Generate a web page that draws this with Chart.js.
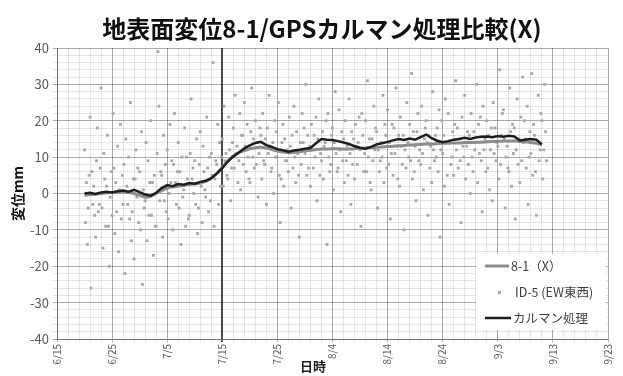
<!DOCTYPE html>
<html>
<head>
<meta charset="utf-8">
<script src="https://cdn.jsdelivr.net/npm/chart.js@4.4.1/dist/chart.umd.min.js"></script>
<style>
  html, body { margin: 0; padding: 0; background: #fff; }
  #wrap { width: 623px; height: 376px; }
</style>
</head>
<body>
<div id="wrap"><canvas id="c" width="623" height="376"></canvas></div>
<script>
// ---- data ----
const chartTitle = '地表面変位8-1/GPSカルマン処理比較(X)';
const xAxisTitle = '日時';
const yAxisTitle = '変位mm';
const axisOrigin = '6/15';
const xTickLabels = ['6/15', '6/25', '7/5', '7/15', '7/25', '8/4', '8/14', '8/24', '9/3', '9/13', '9/23'];

const seriesNames = ['8-1（X）', 'ID-5 (EW東西)', 'カルマン処理'];

// 8-1 (X): daily values starting 6/20
const gaugeStart = '6/20';
const gaugeVals = [
  -0.5, -0.3, -0.2, 0.0, 0.2, 0.3, 0.4, 0.5, 0.3, 0.0,
  -0.5, -1.0, -0.8, 0.0, 0.8, 1.5, 1.8, 2.0, 2.2, 2.5,
  2.6, 2.9, 3.3, 4.2, 5.5, 7.2, 9.0, 10.3, 11.2, 11.8,
  12.3, 12.6, 12.7, 12.5, 12.1, 11.7, 11.4, 11.2, 11.3, 11.5,
  11.7, 11.9, 12.1, 12.2, 12.2, 12.3, 12.3, 12.2, 12.2, 12.3,
  12.4, 12.5, 12.6, 12.7, 12.8, 12.9, 13.0, 13.1, 13.2, 13.3,
  13.4, 13.5, 13.6, 13.6, 13.7, 13.8, 13.8, 13.9, 13.9, 14.0,
  14.0, 14.1, 14.1, 14.2, 14.3, 14.3, 14.4, 14.4, 14.5, 14.3,
  14.2, 14.0, 13.8, 13.4
];

// Kalman filtered: daily values starting 6/20
const kalmanStart = '6/20';
const kalmanVals = [
  0.0, 0.2, -0.1, 0.3, 0.5, 0.3, 0.6, 0.8, 0.5, 1.0,
  0.4, -0.3, -0.6, 0.2, 1.5, 2.3, 2.0, 2.6, 2.4, 2.9,
  2.7, 3.2, 3.5, 4.2, 5.5, 7.0, 8.8, 10.2, 11.3, 12.4,
  13.2, 13.9, 14.2, 13.3, 12.8, 12.2, 11.9, 11.5, 11.8, 12.0,
  12.3, 12.5, 13.8, 15.0, 14.8, 14.7, 14.4, 14.0, 13.6, 13.0,
  12.6, 12.3, 12.8, 13.5, 13.8, 14.2, 14.6, 15.0, 14.7, 15.1,
  14.8, 15.5, 16.2, 15.2, 14.5, 14.1, 14.4, 14.8, 15.0, 15.3,
  15.0, 15.4, 15.6, 15.7, 15.5, 15.8, 15.6, 15.9, 15.7, 14.6,
  14.8, 15.0, 14.8, 13.5
];

// ID-5 (EW): six readings per day (every 4 hours), starting 6/20
const id5Start = '6/20';
const id5ReadingsPerDay = 6;
const id5Vals = [
  [12, -8, 3, -14, -4, 5], [21, -26, 6, -3, 2, -6], [-12, 9, 18, -5, -3, 7], [29, -4, -15, 11, 4, -9],
  [2, 16, -9, -20, -1, 6], [-6, 22, 7, -11, 3, -5], [13, -16, 1, 19, -7, 5], [-3, 8, -22, 15, 2, -3],
  [10, -7, 25, -13, -5, 4], [-18, 4, 12, -1, 7, -8], [6, -10, 17, -25, 1, -4], [-2, 14, -13, 9, -6, 3],
  [20, -6, 3, -17, 5, -9], [-9, 11, 39, 24, -2, 6], [5, -12, 16, -2, 8, -5], [12, -7, 0, 19, 3, 9],
  [-10, 8, 22, 3, -3, 6], [14, -4, 6, -14, 10, -1], [1, 18, -9, 10, 4, -7], [-6, 11, 26, 4, 7, 0],
  [9, -3, 15, -11, -4, 8], [17, 2, -8, 13, 6, 1], [-1, 21, 7, -5, 10, -2], [11, 5, 36, -9, 4, 9],
  [8, 19, -3, 14, 2, 10], [15, 2, 24, 9, 11, 5], [4, 21, 12, -2, 7, 14], [18, 7, 27, 11, 13, 3],
  [9, 22, 1, 16, 16, 8], [25, 13, 6, 19, 10, 4], [3, 17, 29, 10, 15, 7], [20, 8, 14, -1, 11, 18],
  [16, 4, 22, 9, 8, 15], [-3, 18, 11, 27, 13, 6], [7, 14, 0, 20, 10, 17], [12, 25, 5, -8, 4, 14],
  [19, 2, 15, 9, 9, 12], [6, 21, 13, -4, 16, 7], [24, 10, 3, 17, 11, 5], [-12, 14, 8, 22, 14, 18],
  [11, 30, 5, 16, 7, 13], [2, 19, 12, 7, 16, 10], [21, -2, 15, 26, 5, 11], [9, 17, 4, 13, 14, 20],
  [-14, 22, 10, 6, 8, 16], [18, 1, 14, 28, 11, 6], [7, 23, 12, -5, 17, 9], [15, 3, 20, 9, 13, 5],
  [26, 11, -3, 17, 8, 15], [4, 19, 13, 8, 14, 21], [12, -9, 22, 16, 6, 11], [20, 6, 31, 10, 15, 3],
  [1, 15, 9, 24, 12, 18], [17, -4, 12, 6, 9, 14], [10, 27, 3, 19, 16, 7], [23, 8, 14, -7, 11, 19],
  [5, 18, 11, 29, 13, 4], [16, 2, 21, 13, 8, 16], [-10, 12, 7, 25, 14, 10], [19, 9, 33, 4, 17, 6],
  [13, -2, 17, 22, 9, 12], [8, 24, 11, 1, 15, 18], [20, 14, -6, 16, 7, 13], [3, 28, 12, 9, 16, 10],
  [18, 6, 23, -12, 12, 20], [11, 16, 2, 26, 14, 5], [22, -3, 14, 8, 10, 17], [5, 19, 31, 12, 18, 7],
  [15, 9, -8, 21, 13, 10], [27, 4, 13, 17, 8, 16], [0, 22, 10, 6, 17, 12], [14, 30, 3, 19, 11, 21],
  [9, -5, 24, 12, 15, 6], [20, 7, 16, 1, 12, 18], [-2, 25, 11, 18, 9, 14], [13, 4, 34, 8, 16, 22],
  [23, 15, -4, 10, 13, 7], [6, 29, 17, 2, 19, 11], [18, -7, 12, 26, 8, 15], [3, 21, 9, 32, 14, 20],
  [15, 7, 24, -3, 10, 17], [11, 33, 5, 19, 16, 6], [-6, 14, 27, 9, 12, 22], [20, 4, 12, 30, 17, 9]
];

// ---- helpers ----
const FONT = "'Noto Sans CJK JP', 'Noto Sans', sans-serif";

function dayOf(md) {
  const [m, d] = md.split('/').map(Number);
  const [m0, d0] = axisOrigin.split('/').map(Number);
  return (Date.UTC(2015, m - 1, d) - Date.UTC(2015, m0 - 1, d0)) / 86400000;
}

function dailyPoints(start, vals) {
  const s = dayOf(start);
  return vals.map((v, i) => ({ x: s + i, y: v }));
}

function readingPoints(start, perDay, rows) {
  const s = dayOf(start);
  const pts = [];
  rows.forEach((row, i) => {
    row.forEach((v, j) => {
      if (v !== null) pts.push({ x: s + i + j / perDay, y: v });
    });
  });
  return pts;
}

const GAUGE_COLOR = '#8c8c8c';
const KALMAN_COLOR = '#1e1e1e';
const ID5_COLOR = '#a8a8a8';

// title, x-axis caption and in-plot legend
const decorations = {
  id: 'decorations',
  afterDraw(chart) {
    const ctx = chart.ctx;
    ctx.save();
    ctx.fillStyle = '#111';
    ctx.font = 'bold 24px ' + FONT;
    ctx.textAlign = 'center';
    ctx.textBaseline = 'middle';
    ctx.fillText(chartTitle, 322, 29);

    ctx.font = 'bold 13px ' + FONT;
    ctx.fillStyle = '#222';
    ctx.fillText(xAxisTitle, 313, 366);

    // legend box
    ctx.fillStyle = '#fff';
    ctx.fillRect(476, 254, 130, 76);
    ctx.textAlign = 'left';
    ctx.font = '12.5px ' + FONT;
    ctx.fillStyle = '#404040';

    ctx.strokeStyle = GAUGE_COLOR;
    ctx.lineWidth = 3;
    ctx.beginPath(); ctx.moveTo(485, 266); ctx.lineTo(509, 266); ctx.stroke();
    ctx.fillText(seriesNames[0], 511, 266);

    ctx.fillStyle = ID5_COLOR;
    ctx.fillRect(498, 291, 3, 3);
    ctx.fillStyle = '#404040';
    ctx.fillText(seriesNames[1], 515, 292);

    ctx.strokeStyle = KALMAN_COLOR;
    ctx.lineWidth = 2.5;
    ctx.beginPath(); ctx.moveTo(485, 318); ctx.lineTo(511, 318); ctx.stroke();
    ctx.fillText(seriesNames[2], 513, 318);
    ctx.restore();
  }
};

const MAJOR = 'rgba(0,0,0,0.33)';
const MINOR = 'rgba(0,0,0,0.10)';
const MARKED = 'rgba(0,0,0,0.7)';

new Chart(document.getElementById('c'), {
  type: 'line',
  data: {
    datasets: [
      {
        label: seriesNames[2],
        data: dailyPoints(kalmanStart, kalmanVals),
        borderColor: KALMAN_COLOR,
        borderWidth: 2.5,
        pointRadius: 0,
        tension: 0,
        order: 0
      },
      {
        label: seriesNames[0],
        data: dailyPoints(gaugeStart, gaugeVals),
        borderColor: GAUGE_COLOR,
        borderWidth: 3,
        pointRadius: 0,
        tension: 0.3,
        order: 1
      },
      {
        label: seriesNames[1],
        data: readingPoints(id5Start, id5ReadingsPerDay, id5Vals),
        showLine: false,
        pointStyle: 'rect',
        pointRadius: 2,
        pointBorderWidth: 0,
        pointBackgroundColor: ID5_COLOR,
        order: 2
      }
    ]
  },
  options: {
    responsive: false,
    animation: false,
    devicePixelRatio: 1,
    layout: { padding: { top: 48, right: 15, bottom: 0, left: 0 } },
    plugins: {
      legend: { display: false },
      title: { display: false },
      tooltip: { enabled: false }
    },
    scales: {
      x: {
        type: 'linear',
        min: 0,
        max: (xTickLabels.length - 1) * 10,
        afterFit: s => { s.height = 37; },
        ticks: {
          stepSize: 2,
          autoSkip: false,
          minRotation: 90,
          maxRotation: 90,
          padding: 2,
          color: '#595959',
          font: { family: FONT, size: 10 },
          callback: v => (v % 10 === 0 ? xTickLabels[v / 10] : '')
        },
        grid: {
          color: c => (c.tick && c.tick.value === 30 ? MARKED : (c.tick && c.tick.value % 10 === 0 ? MAJOR : MINOR)),
          lineWidth: c => (c.tick && c.tick.value === 30 ? 2 : 1),
          tickLength: 3
        },
        border: { color: MAJOR }
      },
      y: {
        min: -40,
        max: 40,
        afterFit: s => { s.width = 57; },
        ticks: {
          stepSize: 2,
          autoSkip: false,
          padding: 4,
          color: '#595959',
          font: { family: FONT, size: 13 },
          callback: v => (v % 10 === 0 ? String(v) : '')
        },
        grid: {
          color: c => (c.tick && c.tick.value % 10 === 0 ? MAJOR : MINOR),
          tickLength: 4
        },
        border: { color: MAJOR },
        title: {
          display: true,
          text: yAxisTitle,
          color: '#111',
          font: { family: FONT, size: 14, weight: 'bold' },
          padding: { top: 9, bottom: 0 }
        }
      }
    }
  },
  plugins: [decorations]
});
</script>
</body>
</html>
